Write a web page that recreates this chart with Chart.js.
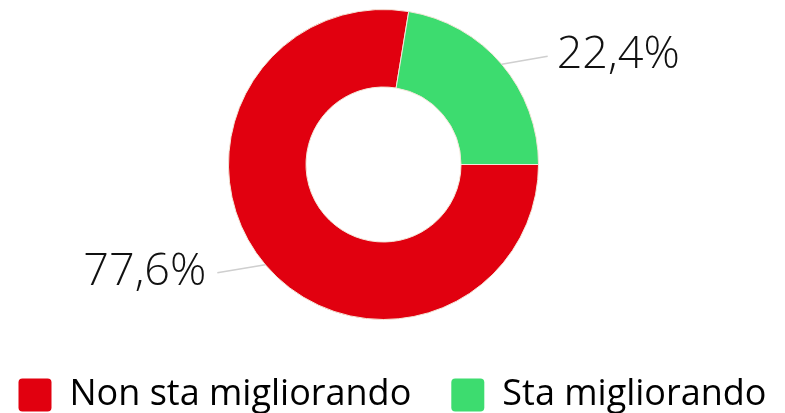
<!DOCTYPE html>
<html>
<head>
<meta charset="utf-8">
<script src="https://cdn.jsdelivr.net/npm/chart.js@4/dist/chart.umd.min.js"></script>
<style>
  html, body { margin: 0; padding: 0; background: #fff; }
  #wrap { width: 785px; height: 413px; }
</style>
</head>
<body>
<div id="wrap"><canvas id="chart" width="785" height="413"></canvas></div>
<script>
// Data
const categories = ['Non sta migliorando', 'Sta migliorando'];
const values = [77.6, 22.4];
const valueLabels = ['77,6%', '22,4%'];
const colors = ['#e1000f', '#3ddc6f'];

const FONT = "'Open Sans', sans-serif";

// Keep the legend on one row and nudge ring / legend like the original layout
const layoutNudge = {
  id: 'layoutNudge',
  beforeUpdate(chart) {
    const lg = chart.legend;
    if (lg && !lg._oneRow) {
      const fit = lg.fit;
      lg.fit = function () {
        this.maxWidth = 900;
        fit.call(this);
      };
      lg._oneRow = true;
    }
  },
  afterLayout(chart) {
    const a = chart.chartArea;
    a.left -= 9; a.right -= 9;
    a.top += 1; a.bottom += 1;
    const lg = chart.legend;
    lg.top += 10; lg.bottom += 10;
    // widen symmetrically so the row does not wrap, centre stays put
    lg.left -= 60; lg.right += 60;
  }
};

// Outside labels with leader lines
const outsideLabels = {
  id: 'outsideLabels',
  afterDatasetsDraw(chart) {
    const ctx = chart.ctx;
    const meta = chart.getDatasetMeta(0);
    meta.data.forEach((arc, i) => {
      const mid = (arc.startAngle + arc.endAngle) / 2;
      const sx = arc.x + Math.cos(mid) * arc.outerRadius;
      const sy = arc.y + Math.sin(mid) * arc.outerRadius;
      const right = Math.cos(mid) >= 0;
      const ex = sx + (right ? 46 : -48);
      const ey = sy + (right ? -8 : 8);

      ctx.save();
      ctx.strokeStyle = '#cfcfcf';
      ctx.lineWidth = 1.5;
      ctx.beginPath();
      ctx.moveTo(sx, sy);
      ctx.lineTo(ex, ey);
      ctx.stroke();

      ctx.fillStyle = '#111';
      ctx.font = '300 45px ' + FONT;
      ctx.textBaseline = 'middle';
      ctx.textAlign = right ? 'left' : 'right';
      ctx.fillText(valueLabels[i], ex + (right ? 9 : -11), ey - 1);
      ctx.restore();
    });
  }
};

new Chart(document.getElementById('chart'), {
  type: 'doughnut',
  data: {
    labels: categories,
    datasets: [{
      data: values,
      backgroundColor: colors,
      borderColor: '#f3e6d8',
      borderWidth: 1,
      radius: 155,
      cutout: '50%'
    }]
  },
  options: {
    responsive: false,
    animation: false,
    rotation: 90,
    layout: { padding: 0 },
    plugins: {
      tooltip: { enabled: false },
      legend: {
        position: 'bottom',
        labels: {
          boxWidth: 33,
          boxHeight: 33,
          padding: 40,
          useBorderRadius: true,
          borderRadius: 4,
          color: '#111',
          font: { family: FONT, size: 36 },
          generateLabels(chart) {
            return categories.map((c, i) => ({
              text: c,
              fillStyle: colors[i],
              strokeStyle: colors[i],
              lineWidth: 0,
              borderRadius: 4,
              index: i
            }));
          }
        }
      }
    }
  },
  plugins: [layoutNudge, outsideLabels]
});
</script>
</body>
</html>
